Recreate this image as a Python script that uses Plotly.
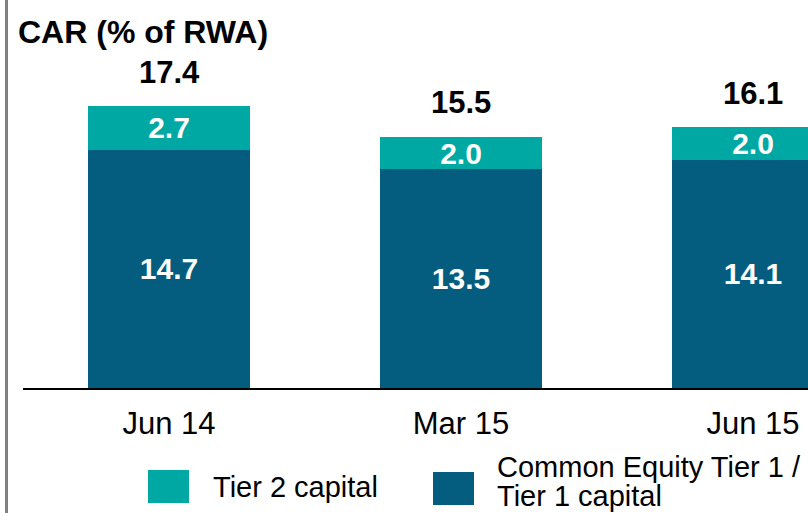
import plotly.graph_objects as go

# Capital adequacy ratio, % of risk-weighted assets
periods = ["Jun 14", "Mar 15", "Jun 15"]
cet1_tier1 = [14.7, 13.5, 14.1]
tier2 = [2.7, 2.0, 2.0]
totals = [17.4, 15.5, 16.1]

TEAL = "#00A8A4"
NAVY = "#045C7E"
FONT = "Liberation Sans, Arial, sans-serif"

W, H = 808, 513
x_pos = list(range(len(periods)))

fig = go.Figure()
fig.add_trace(go.Bar(
    x=x_pos, y=cet1_tier1, name="Common Equity Tier 1 / Tier 1 capital",
    marker=dict(color=NAVY, line=dict(width=0)), width=0.555,
    text=[f"<b>{v:.1f}</b>" for v in cet1_tier1], textposition="inside",
    insidetextanchor="middle", constraintext="none",
    textfont=dict(family=FONT, size=30, color="white"),
))
fig.add_trace(go.Bar(
    x=x_pos, y=tier2, name="Tier 2 capital",
    marker=dict(color=TEAL, line=dict(width=0)), width=0.555,
    text=[f"<b>{v:.1f}</b>" for v in tier2], textposition="inside",
    insidetextanchor="middle", constraintext="none",
    textfont=dict(family=FONT, size=30, color="white"),
))

annotations = []
# totals above each stack
for x, t in zip(x_pos, totals):
    annotations.append(dict(
        x=x, y=t, xref="x", yref="y", text=f"<b>{t:.1f}</b>",
        showarrow=False, yanchor="middle", yshift=34,
        font=dict(family=FONT, size=31, color="black"),
    ))

# chart title
annotations.append(dict(
    x=16 / W, y=1 - 32 / H, xref="paper", yref="paper", xanchor="left",
    yanchor="middle", text="<b>CAR (% of RWA)</b>", showarrow=False,
    font=dict(family=FONT, size=32, color="black"),
))

# legend labels
annotations.append(dict(
    x=211 / W, y=1 - 487 / H, xref="paper", yref="paper", xanchor="left",
    yanchor="middle", text="Tier 2 capital", showarrow=False,
    font=dict(family=FONT, size=29, color="black"),
))
annotations.append(dict(
    x=495 / W, y=1 - 467 / H, xref="paper", yref="paper", xanchor="left",
    yanchor="middle", text="Common Equity Tier 1 /", showarrow=False,
    font=dict(family=FONT, size=29, color="black"),
))
annotations.append(dict(
    x=495 / W, y=1 - 496 / H, xref="paper", yref="paper", xanchor="left",
    yanchor="middle", text="Tier 1 capital", showarrow=False,
    font=dict(family=FONT, size=29, color="black"),
))

shapes = [
    # left border rule
    dict(type="line", xref="paper", yref="paper", x0=6.5 / W, x1=6.5 / W,
         y0=0, y1=1, line=dict(color="#808080", width=3)),
    # legend swatches
    dict(type="rect", xref="paper", yref="paper",
         x0=148 / W, x1=189 / W, y0=1 - 503 / H, y1=1 - 470 / H,
         fillcolor=TEAL, line=dict(width=0)),
    dict(type="rect", xref="paper", yref="paper",
         x0=433 / W, x1=474 / W, y0=1 - 505 / H, y1=1 - 472 / H,
         fillcolor=NAVY, line=dict(width=0)),
]

fig.update_layout(
    width=W, height=H, barmode="stack", showlegend=False,
    margin=dict(l=0, r=0, t=0, b=0),
    paper_bgcolor="white", plot_bgcolor="white",
    font=dict(family=FONT, color="black"),
    annotations=annotations, shapes=shapes,
    xaxis=dict(
        domain=[23 / W, 1], range=[-0.5, -0.5 + 785 / 292],
        tickmode="array", tickvals=x_pos, ticktext=periods,
        tickfont=dict(family=FONT, size=31, color="black"),
        ticks="outside", ticklen=7, tickcolor="rgba(0,0,0,0)",
        showline=True, linecolor="black", linewidth=1.5,
        showgrid=False, zeroline=False, fixedrange=True,
    ),
    yaxis=dict(
        domain=[125 / H, 1], range=[0, 388 / 16.2],
        visible=False, showgrid=False, zeroline=False, fixedrange=True,
    ),
)

fig.write_html("out.html")
